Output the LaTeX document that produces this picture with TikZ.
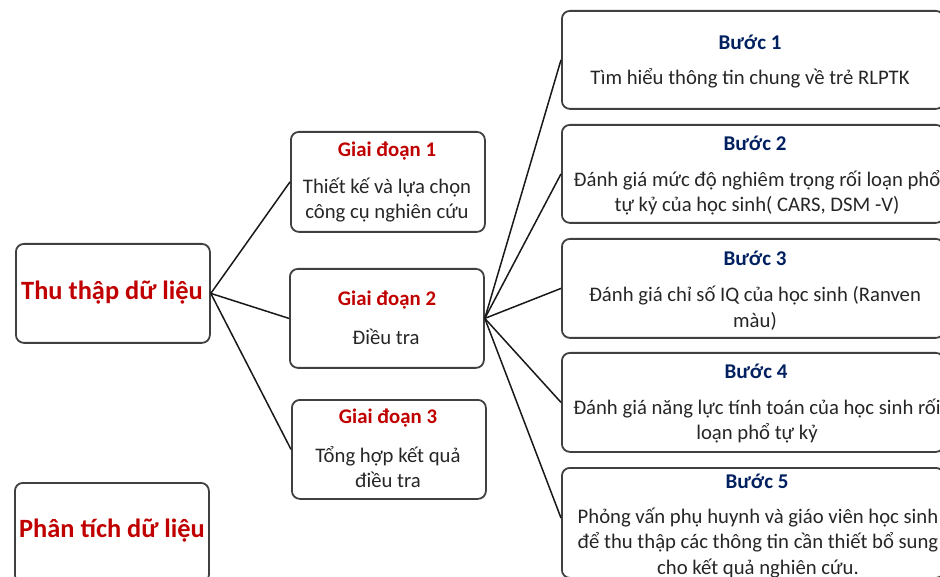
\documentclass[tikz,border=0pt]{standalone}
\usepackage{fontspec}
\setmainfont{Carlito}
\definecolor{myred}{RGB}{192,0,0}
\definecolor{navy}{RGB}{0,32,96}
\definecolor{boxgray}{RGB}{64,64,64}
\begin{document}
\begin{tikzpicture}[x=1pt,y=-1pt,
  box/.style={draw=boxgray, line width=1.8pt, rounded corners=8pt, fill=white, inner sep=0pt, anchor=north west},
  link/.style={draw=black!90, line width=1.5pt},
  big/.style={font=\fontsize{26.4}{30}\selectfont\bfseries, text=myred, inner sep=0pt},
  gtitle/.style={font=\fontsize{20.8}{24}\selectfont\bfseries, text=myred, inner sep=0pt},
  btitle/.style={font=\fontsize{21}{24}\selectfont\bfseries, text=navy, inner sep=0pt},
  body/.style={font=\fontsize{20.7}{25.5}\selectfont, align=center, text=black!85, inner sep=0pt}]
\useasboundingbox (0,0) rectangle (940,577);
\clip (0,0) rectangle (940,577);
% left boxes
\node[box, minimum width=194pt, minimum height=99pt] (thu) at (15,243) {};
\node[box, minimum width=194pt, minimum height=100pt] (phan) at (14,482) {};
% stage boxes
\node[box, minimum width=194pt, minimum height=100pt] (g1) at (290,131) {};
\node[box, minimum width=194pt, minimum height=99pt] (g2) at (289,268) {};
\node[box, minimum width=194pt, minimum height=99pt] (g3) at (291,399) {};
% step boxes
\node[box, minimum width=382pt, minimum height=98pt] (b1) at (561,10) {};
\node[box, minimum width=382pt, minimum height=98pt] (b2) at (561,124) {};
\node[box, minimum width=382pt, minimum height=99pt] (b3) at (561,238) {};
\node[box, minimum width=382pt, minimum height=99pt] (b4) at (561,352) {};
\node[box, minimum width=382pt, minimum height=110pt] (b5) at (561,467) {};
% connectors
\draw[link] (thu.east) -- (g1.west);
\draw[link] (thu.east) -- (g2.west);
\draw[link] (thu.east) -- (g3.west);
\draw[link] (g2.east) -- (b1.west);
\draw[link] (g2.east) -- (b2.west);
\draw[link] (g2.east) -- (b3.west);
\draw[link] (g2.east) -- (b4.west);
\draw[link] (g2.east) -- (561,518);
% texts
\node[big] (tthu) at (112,293) {Thu thập dữ liệu};
\node[big] (tphan) at (112,531) {Phân tích dữ liệu};
\node[gtitle] (tg1) at (387,151) {Giai đoạn 1};
\node[body] (bg1) at (387,200) {Thiết kế và lựa chọn\\công cụ nghiên cứu};
\node[gtitle] (tg2) at (387,300) {Giai đoạn 2};
\node[body] (bg2) at (386,337) {Điều tra};
\node[gtitle] (tg3) at (388,418) {Giai đoạn 3};
\node[body] (bg3) at (388,467) {Tổng hợp kết quả\\điều tra};
\node[btitle] (tb1) at (750,42) {Bước 1};
\node[body] (bb1) at (750,78) {Tìm hiểu thông tin chung về trẻ RLPTK};
\node[btitle] (tb2) at (755,143) {Bước 2};
\node[body] (bb2) at (757,193) {Đánh giá mức độ nghiêm trọng rối loạn phổ\\tự kỷ của học sinh( CARS, DSM -V)};
\node[btitle] (tb3) at (755,258) {Bước 3};
\node[body] (bb3) at (755,308) {Đánh giá chỉ số IQ của học sinh (Ranven\\màu)};
\node[btitle] (tb4) at (756,371) {Bước 4};
\node[body] (bb4) at (757,421) {Đánh giá năng lực tính toán của học sinh rối\\loạn phổ tự kỷ};
\node[btitle] (tb5) at (757,481) {Bước 5};
\node[body] (bb5) at (758,543) {Phỏng vấn phụ huynh và giáo viên học sinh\\để thu thập các thông tin cần thiết bổ sung\\cho kết quả nghiên cứu.};
\end{tikzpicture}
\end{document}
